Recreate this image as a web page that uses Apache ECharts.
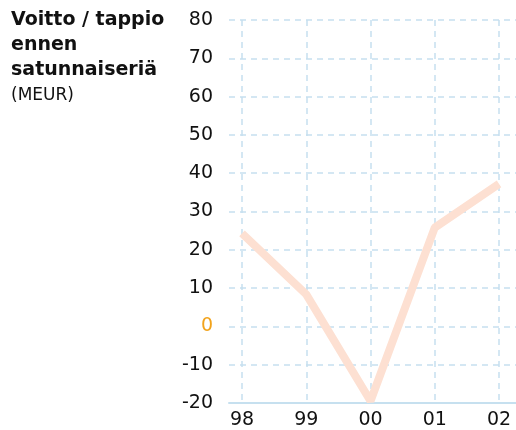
<!DOCTYPE html>
<html>
<head>
<meta charset="utf-8">
<script src="https://cdn.jsdelivr.net/npm/echarts@6/dist/echarts.min.js"></script>
<style>
  html, body { margin: 0; padding: 0; background: #fff; }
  #chart { width: 516px; height: 430px; }
</style>
</head>
<body>
<div id="chart"></div>
<script>
const years = ["98", "99", "00", "01", "02"];
const result = [24, 8, -20, 25.5, 37];
const yMin = -20;
const yMax = 80;

const gridColor = "#c6e0ef";
const font = "'DejaVu Sans', sans-serif";

const chart = echarts.init(document.getElementById("chart"));
chart.setOption({
  animation: false,
  textStyle: { fontFamily: font },
  title: {
    left: 6,
    top: 3,
    text: "{b|Voitto / tappio}\n{b|ennen}\n{b|satunnaiseriä}\n{n|(MEUR)}",
    textStyle: {
      rich: {
        b: { fontSize: 19, fontWeight: "bold", color: "#111", lineHeight: 25, fontFamily: font },
        n: { fontSize: 17, fontWeight: "normal", color: "#111", lineHeight: 25, fontFamily: font },
      },
    },
  },
  grid: [
    { left: 229, right: 0, top: 20, bottom: 27 },
    { left: 242, right: 17, top: 20, bottom: 27 },
  ],
  xAxis: [
    {
      type: "value",
      gridIndex: 0,
      min: 0,
      max: 1,
      axisLine: { show: true, onZero: false, lineStyle: { color: gridColor, width: 2 } },
      axisTick: { show: false },
      axisLabel: { show: false },
      splitLine: { show: false },
    },
    {
      type: "category",
      gridIndex: 1,
      data: years,
      boundaryGap: false,
      axisLine: { show: false, onZero: false },
      axisTick: { show: false },
      axisLabel: { color: "#111", fontSize: 19, margin: 10 },
      splitLine: {
        show: true,
        interval: 0,
        lineStyle: { color: gridColor, width: 1.5, type: [6, 5] },
      },
    },
  ],
  yAxis: [
    {
      type: "value",
      gridIndex: 0,
      min: yMin,
      max: yMax,
      interval: 10,
      axisLine: { show: false },
      axisTick: { show: false },
      axisLabel: {
        color: "#111",
        fontSize: 19,
        margin: 16,
        formatter: (v) => (v === 0 ? "{o|0}" : String(v)),
        rich: { o: { color: "#f2a31b", fontSize: 19 } },
      },
      splitLine: {
        show: true,
        lineStyle: { color: gridColor, width: 1.5, type: [6, 5] },
      },
    },
    {
      type: "value",
      gridIndex: 1,
      min: yMin,
      max: yMax,
      show: false,
      splitLine: { show: false },
    },
  ],
  series: [
    {
      type: "line",
      xAxisIndex: 1,
      yAxisIndex: 1,
      data: result,
      symbol: "none",
      lineStyle: { color: "#fde0d2", width: 8 },
      z: 5,
    },
  ],
});
</script>
</body>
</html>
